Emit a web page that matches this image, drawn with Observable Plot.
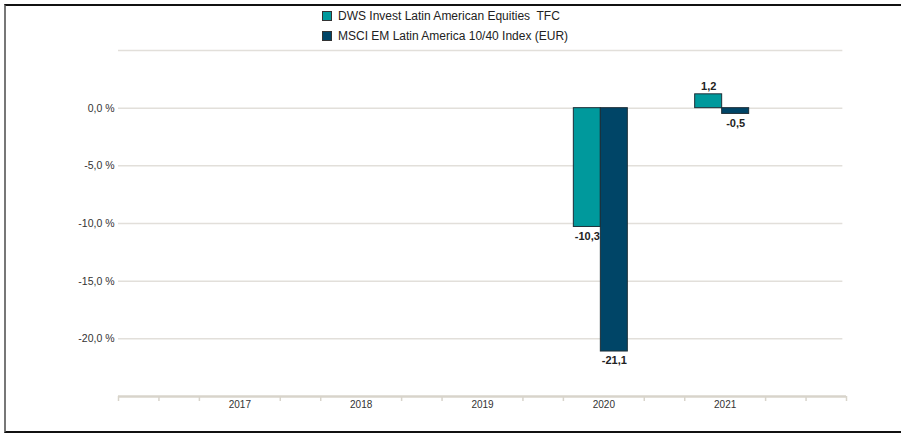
<!DOCTYPE html>
<html>
<head>
<meta charset="utf-8">
<script src="https://cdn.jsdelivr.net/npm/d3@7"></script>
<script src="https://cdn.jsdelivr.net/npm/@observablehq/plot@0.6"></script>
<style>
  html, body { margin: 0; padding: 0; background: #fff; }
  #wrap { position: relative; width: 901px; height: 433px; overflow: hidden; font-family: "Liberation Sans", Arial, sans-serif; }
  #legend { height: 45px; position: relative; }
  .item { position: absolute; left: 322px; display: flex; align-items: center; font-size: 12px; color: #222; white-space: pre; }
  .sw { width: 8px; height: 8px; border: 1px solid #333; margin-right: 6px; }
  #frame { position: absolute; left: 4px; top: 4px; width: 897px; height: 425px; border-top: 2px solid #111; border-left: 2px solid #777; border-bottom: 2px solid #111; pointer-events: none; box-sizing: content-box; }
  svg { display: block; }
</style>
</head>
<body>
<div id="wrap">
  <div id="legend"></div>
  <div id="chart"></div>
  <div id="frame"></div>
</div>
<script>
const seriesNames = ["DWS Invest Latin American Equities  TFC", "MSCI EM Latin America 10/40 Index (EUR)"];
const seriesColors = ["#00999c", "#004567"];
const years = [2020, 2021];
const tfcValues = [-10.3, 1.2];
const msciValues = [-21.1, -0.5];
const yearLabels = [2017, 2018, 2019, 2020, 2021];
const yTicks = [0, -5, -10, -15, -20];
const yGrid = [5, 0, -5, -10, -15, -20];

const barW = 0.2225; // bar width in years
const minorTicks = d3.range(0, 19).map(i => 2016 + i / 3).filter(t => Math.abs(t - Math.round(t)) > 0.01 || Math.round(t) === 2016 || Math.round(t) === 2022);

const data = [];
years.forEach((y, i) => {
  data.push({year: y, series: seriesNames[0], value: tfcValues[i], x1: y - barW, x2: y});
  data.push({year: y, series: seriesNames[1], value: msciValues[i], x1: y, x2: y + barW});
});
data.forEach(d => d.xm = (d.x1 + d.x2) / 2);

const fmt = v => v.toFixed(1).replace(".", ",");

// legend
const legend = document.getElementById("legend");
seriesNames.forEach((n, i) => {
  const it = document.createElement("div");
  it.className = "item";
  it.style.top = (9 + i * 20) + "px";
  const sw = document.createElement("span");
  sw.className = "sw";
  sw.style.background = seriesColors[i];
  it.appendChild(sw);
  it.appendChild(document.createTextNode(n));
  legend.appendChild(it);
});

const chart = Plot.plot({
  width: 901,
  height: 388,
  marginLeft: 118,
  marginRight: 55,
  marginTop: 5,
  marginBottom: 37,
  style: {fontFamily: "'Liberation Sans', Arial, sans-serif", background: "transparent"},
  x: {domain: [2016, 2022], axis: null, label: null},
  y: {domain: [-25, 5], axis: null, label: null},
  color: {domain: seriesNames, range: seriesColors},
  marks: [
    Plot.ruleY(yGrid, {x1: 2016, x2: 2021.97, stroke: "#e2dfda", strokeWidth: 1.5}),
    Plot.axisY(yTicks, {label: null, tickSize: 0, tickPadding: 4, tickFormat: d => fmt(d) + " %", fontSize: 10.5, fill: "#333"}),
    Plot.rectY(data, {x1: "x1", x2: "x2", y1: 0, y2: "value", fill: "series", stroke: "#1d2f38", strokeWidth: 1, dx: -3}),
    Plot.text(data.filter(d => d.value >= 0), {x: "xm", y: "value", text: d => fmt(d.value), lineAnchor: "bottom", dy: -4, dx: -3, fontSize: 11, fontWeight: "bold", fill: "#222"}),
    Plot.text(data.filter(d => d.value < 0), {x: "xm", y: "value", text: d => fmt(d.value), lineAnchor: "top", dy: 5, dx: -3, fontSize: 11, fontWeight: "bold", fill: "#222"}),
    Plot.ruleY([-25], {stroke: "#d8d4cb", strokeWidth: 2.5}),
    Plot.axisX(minorTicks, {label: null, tickSize: 5, tickFormat: () => "", stroke: "#d8d4cb", strokeWidth: 1.5}),
    Plot.axisX(yearLabels, {label: null, tickSize: 0, tickPadding: 4, tickFormat: d => String(d), fontSize: 10, fill: "#333"})
  ]
});
document.getElementById("chart").appendChild(chart);
</script>
</body>
</html>
